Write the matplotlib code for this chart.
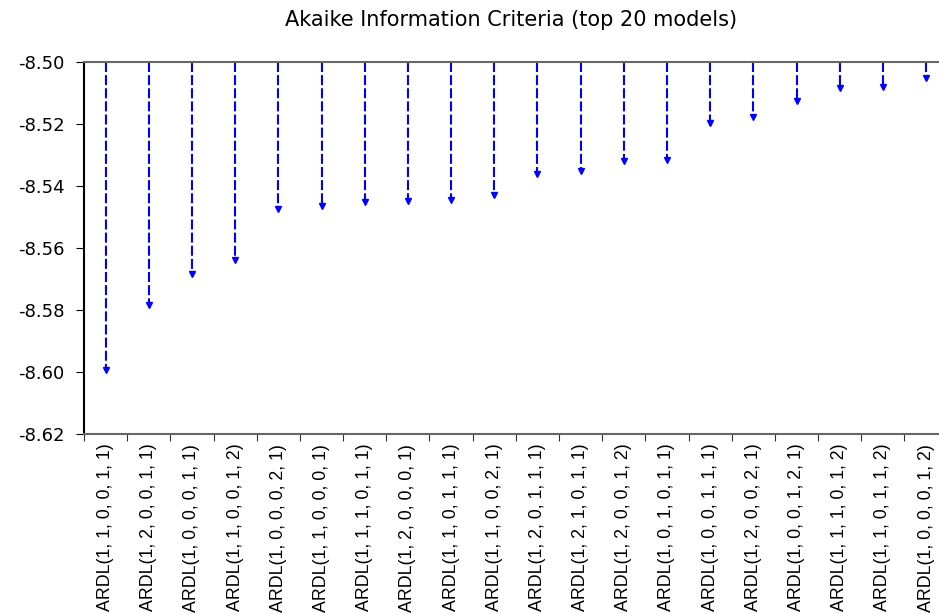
import matplotlib.pyplot as plt
import numpy as np

plt.rcParams['font.family'] = ['Liberation Sans', 'DejaVu Sans']

models = [
    "ARDL(1, 1, 0, 0, 1, 1)",
    "ARDL(1, 2, 0, 0, 1, 1)",
    "ARDL(1, 0, 0, 0, 1, 1)",
    "ARDL(1, 1, 0, 0, 1, 2)",
    "ARDL(1, 0, 0, 0, 2, 1)",
    "ARDL(1, 1, 0, 0, 0, 1)",
    "ARDL(1, 1, 1, 0, 1, 1)",
    "ARDL(1, 2, 0, 0, 0, 1)",
    "ARDL(1, 1, 0, 1, 1, 1)",
    "ARDL(1, 1, 0, 0, 2, 1)",
    "ARDL(1, 2, 0, 1, 1, 1)",
    "ARDL(1, 2, 1, 0, 1, 1)",
    "ARDL(1, 2, 0, 0, 1, 2)",
    "ARDL(1, 0, 1, 0, 1, 1)",
    "ARDL(1, 0, 0, 1, 1, 1)",
    "ARDL(1, 2, 0, 0, 2, 1)",
    "ARDL(1, 0, 0, 1, 2, 1)",
    "ARDL(1, 1, 1, 0, 1, 2)",
    "ARDL(1, 1, 0, 1, 1, 2)",
    "ARDL(1, 0, 0, 0, 1, 2)",
]
aic = [-8.5995, -8.5785, -8.5685, -8.5640, -8.5475, -8.5465, -8.5450,
       -8.5447, -8.5445, -8.5430, -8.5360, -8.5352, -8.5318, -8.5315,
       -8.5198, -8.5178, -8.5125, -8.5083, -8.5080, -8.5053]

top = -8.50
yticks = [-8.50, -8.52, -8.54, -8.56, -8.58, -8.60, -8.62]

fig = plt.figure(figsize=(9.39, 6.14), dpi=100)
ax = fig.add_axes([84 / 939, 180 / 614, 855 / 939, 372 / 614])

x = np.arange(len(models)) + 0.5
ax.vlines(x, top, aic, colors='#0000ff', linewidth=1.5,
          linestyles=(0, (4.8, 1.5)))
ax.plot(x, aic, linestyle='none', marker='v', markersize=5,
        color='#0000ff')

ax.set_xlim(0, 19.8)
ax.set_ylim(-8.62, -8.50)
ax.set_yticks(yticks)
ax.set_yticklabels([f"{v:.2f}" for v in yticks], fontsize=13,
                   family='DejaVu Sans')
ax.set_xticks(np.arange(len(models)))
ax.set_xticklabels([])
ax.set_xticks(x, minor=True)
ax.set_xticklabels(models, minor=True, rotation=90, fontsize=12.8)
ax.tick_params(axis='x', which='minor', length=0, pad=7)
ax.tick_params(axis='x', which='major', length=5, direction='out', color='#333333')
ax.tick_params(axis='y', length=6, direction='out', pad=8)

ax.spines['right'].set_visible(False)
ax.spines['top'].set_color('#666666')
ax.spines['bottom'].set_color('#666666')
ax.spines['top'].set_linewidth(1.5)
ax.spines['bottom'].set_linewidth(1.5)
ax.spines['left'].set_linewidth(1.5)

ax.set_title("Akaike Information Criteria (top 20 models)", fontsize=15,
             family='DejaVu Sans', pad=26)

fig.savefig("out.png", dpi=100)
